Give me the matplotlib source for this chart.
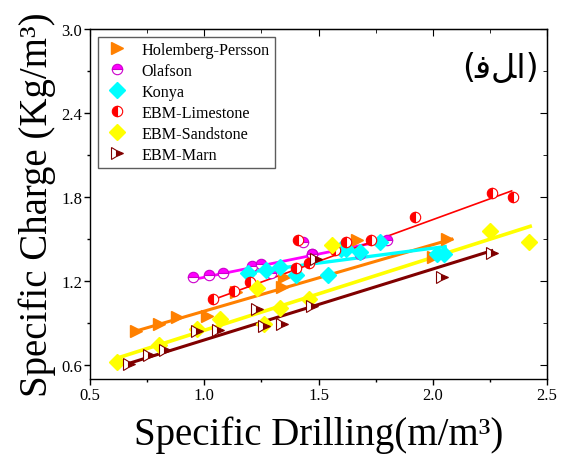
import numpy as np
import matplotlib
matplotlib.use("Agg")
import matplotlib.pyplot as plt
from matplotlib.ticker import MultipleLocator

# ---- data ----
hp_x = [0.70, 0.80, 0.88, 1.01, 1.14, 1.34, 1.35, 1.67, 2.00, 2.06]
hp_y = [0.84, 0.89, 0.94, 0.95, 1.12, 1.16, 1.23, 1.49, 1.37, 1.50]

ol_x = [0.95, 1.02, 1.08, 1.21, 1.25, 1.29, 1.43, 1.47, 1.47, 1.68, 1.80]
ol_y = [1.23, 1.24, 1.26, 1.31, 1.32, 1.26, 1.48, 1.39, 1.39, 1.39, 1.49]

ko_x = [1.19, 1.27, 1.33, 1.40, 1.54, 1.60, 1.62, 1.68, 1.77, 2.02, 2.05]
ko_y = [1.26, 1.28, 1.30, 1.24, 1.24, 1.43, 1.43, 1.41, 1.48, 1.39, 1.39]

li_x = [1.04, 1.13, 1.20, 1.40, 1.41, 1.46, 1.57, 1.62, 1.73, 1.92, 2.26, 2.35]
li_y = [1.07, 1.13, 1.19, 1.29, 1.49, 1.33, 1.42, 1.48, 1.49, 1.66, 1.83, 1.80]

sa_x = [0.62, 0.80, 0.97, 1.07, 1.23, 1.26, 1.33, 1.46, 1.56, 2.25, 2.42]
sa_y = [0.62, 0.74, 0.86, 0.93, 1.15, 0.89, 1.01, 1.07, 1.46, 1.56, 1.48]

ma_x = [0.67, 0.76, 0.83, 0.97, 1.06, 1.23, 1.26, 1.34, 1.47, 1.49, 2.04, 2.26]
ma_y = [0.61, 0.67, 0.71, 0.84, 0.85, 1.00, 0.88, 0.89, 1.02, 1.36, 1.23, 1.40]

# linear trend lines (slope, intercept)
trend_slope = [0.475, 0.332, 0.213, 0.595, 0.521, 0.507]
trend_intercept = [0.510, 0.895, 1.009, 0.449, 0.327, 0.272]
trend_xmin = [0.69, 0.945, 1.186, 1.025, 0.617, 0.660]
trend_xmax = [2.083, 1.806, 2.054, 2.345, 2.426, 2.258]

series_labels = ["Holemberg-Persson", "Olafson", "Konya",
                 "EBM-Limestone", "EBM-Sandstone", "EBM-Marn"]
x_ticks = [0.5, 1.0, 1.5, 2.0, 2.5]
y_ticks = [0.6, 1.2, 1.8, 2.4, 3.0]

plt.rcParams['font.family'] = ['Liberation Serif', 'DejaVu Sans']

fig = plt.figure(figsize=(5.64, 4.64), dpi=100)
ax = fig.add_axes([0.1596, 0.181, 0.8104, 0.754])

styles = [
    dict(x=hp_x, y=hp_y, c='#FF8000', lw=2.2,
         mk=dict(marker='>', color='#FF8000', mec='#FF8000', ms=8)),
    dict(x=ol_x, y=ol_y, c='#FF00FF', lw=2.0,
         mk=dict(marker='o', color='#FF00FF', mec='#CC00CC', ms=7.5,
                 fillstyle='top', markerfacecoloralt='white', mew=0.8)),
    dict(x=ko_x, y=ko_y, c='#00FFFF', lw=2.4,
         mk=dict(marker='D', color='#00FFFF', mec='#00FFFF', ms=8)),
    dict(x=li_x, y=li_y, c='#FF0000', lw=1.2,
         mk=dict(marker='o', color='#FF0000', mec='#FF0000', ms=7.5,
                 fillstyle='left', markerfacecoloralt='white', mew=0.8)),
    dict(x=sa_x, y=sa_y, c='#FFFF00', lw=2.6,
         mk=dict(marker='D', color='#FFFF00', mec='#FFFF00', ms=8)),
    dict(x=ma_x, y=ma_y, c='#800000', lw=2.2,
         mk=dict(marker='>', color='#800000', mec='#800000', ms=8,
                 fillstyle='right', markerfacecoloralt='white', mew=0.8)),
]

handles = []
for i, (s, lab) in enumerate(zip(styles, series_labels)):
    xs = np.array(s['x']); ys = np.array(s['y'])
    xl = np.array([trend_xmin[i], trend_xmax[i]])
    ax.plot(xl, trend_slope[i] * xl + trend_intercept[i],
            color=s['c'], lw=s['lw'], zorder=2)
    h, = ax.plot(xs, ys, linestyle='none', zorder=3, label=lab, **s['mk'])
    handles.append(h)

ax.set_xlim(0.5, 2.5)
ax.set_ylim(0.5, 3.0)
ax.set_xticks(x_ticks)
ax.set_yticks(y_ticks)
ax.xaxis.set_minor_locator(MultipleLocator(0.25))
ax.yaxis.set_minor_locator(MultipleLocator(0.3))
ax.tick_params(which='both', direction='out', labelsize=12)
ax.tick_params(which='major', length=4, width=1, pad=1.5)
ax.tick_params(which='minor', length=2.5, width=1)
ax.set_xticklabels([f"{v:.1f}" for v in x_ticks])
ax.set_yticklabels([f"{v:.1f}" for v in y_ticks])

for sp in ax.spines.values():
    sp.set_linewidth(1.0)

# mirrored inward ticks on top/right
sx = ax.secondary_xaxis('top')
sx.set_xticks(x_ticks)
sx.xaxis.set_minor_locator(MultipleLocator(0.25))
sx.tick_params(which='both', direction='in', labeltop=False)
sx.tick_params(which='major', length=5)
sx.tick_params(which='minor', length=3)
sy = ax.secondary_yaxis('right')
sy.set_yticks(y_ticks)
sy.yaxis.set_minor_locator(MultipleLocator(0.3))
sy.tick_params(which='both', direction='in', labelright=False)
sy.tick_params(which='major', length=5)
sy.tick_params(which='minor', length=3)

ax.set_xlabel("Specific Drilling(m/m³)", fontsize=28, labelpad=9)
ax.set_ylabel("Specific Charge (Kg/m³)", fontsize=28, labelpad=4)

leg = ax.legend(handles=handles, loc='upper left', fontsize=11.6,
                frameon=True, fancybox=False, edgecolor='#333333',
                borderaxespad=0.5, labelspacing=0.31, handletextpad=0.6,
                borderpad=0.3, handlelength=1.8)
leg.get_frame().set_linewidth(1.0)

ax.text(0.899, 0.891, "(ﻓﻞﺍ)", transform=ax.transAxes, fontsize=24,
        family='DejaVu Sans', ha='center', va='center')

fig.savefig("out.png", dpi=100)
